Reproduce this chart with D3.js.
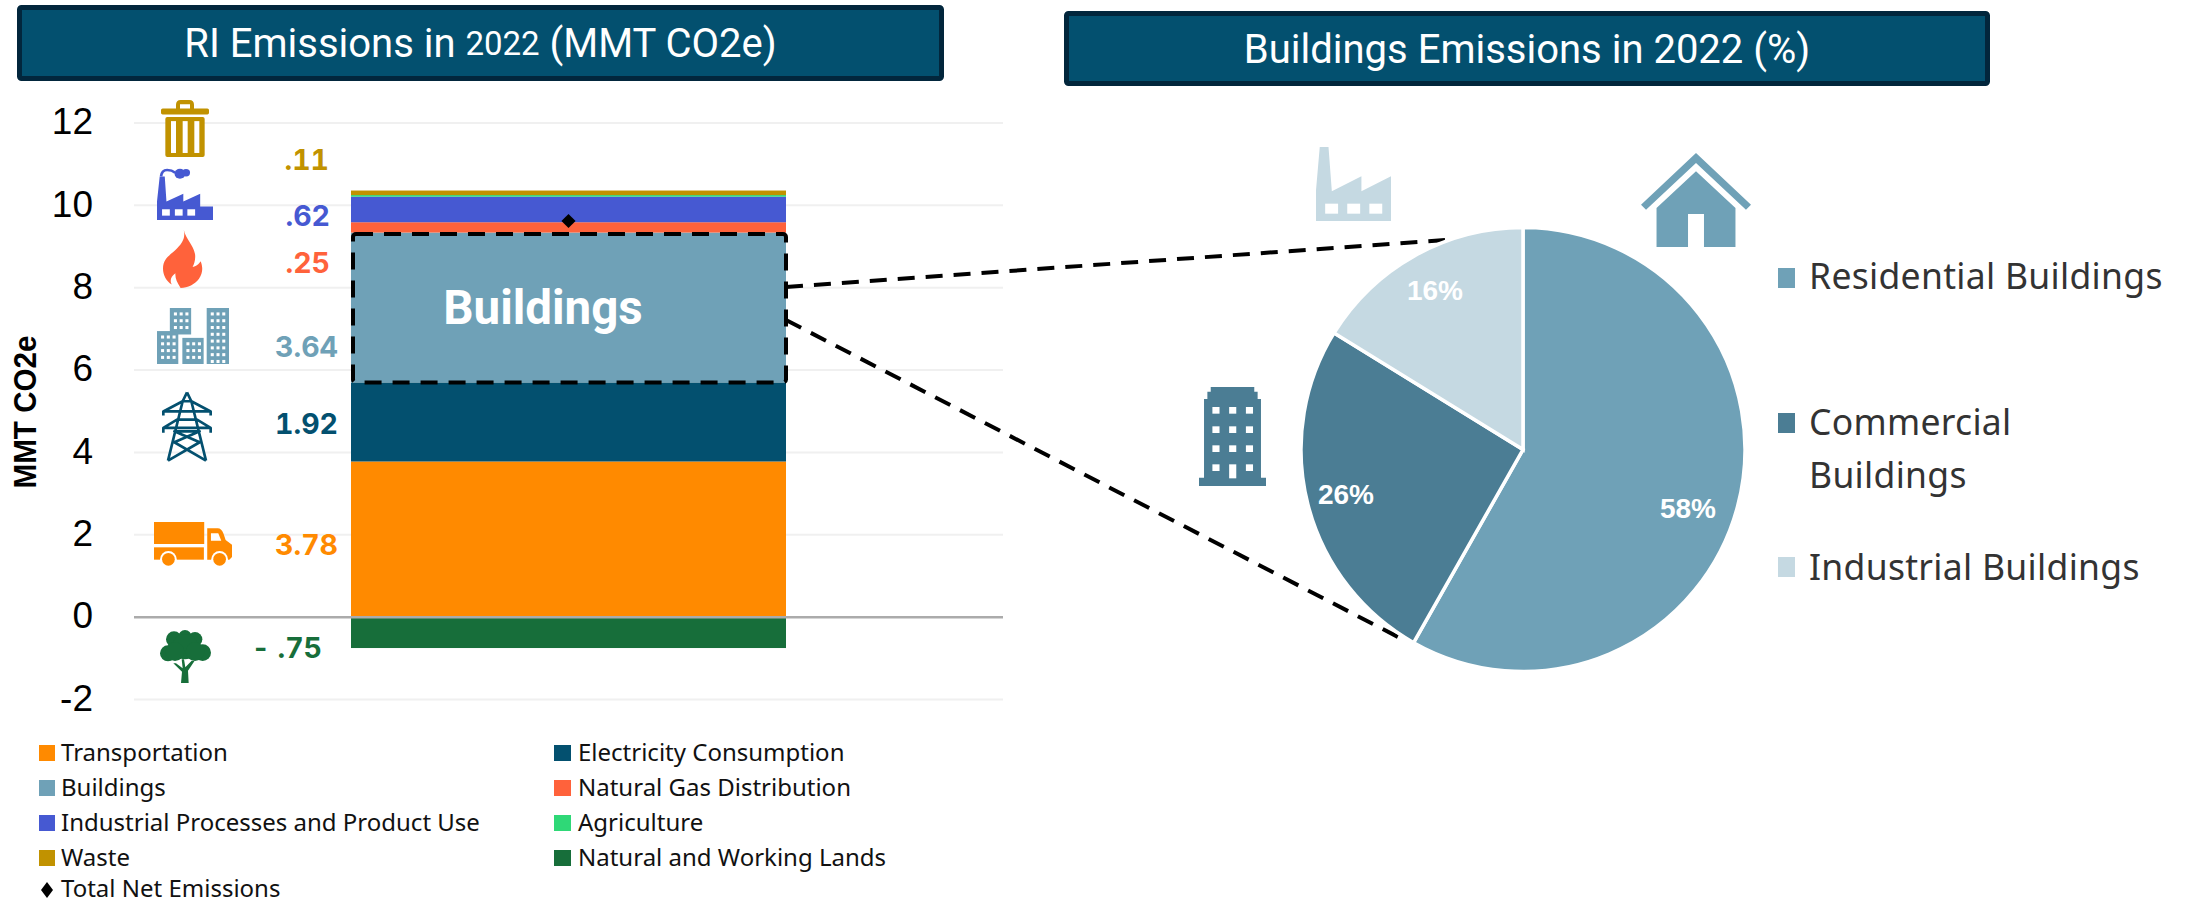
<!DOCTYPE html>
<html><head><meta charset="utf-8">
<script src="https://cdn.jsdelivr.net/npm/d3@7/dist/d3.min.js"></script>
<style>html,body{margin:0;padding:0;background:#fff;overflow:hidden}svg{display:block}</style>
</head><body><svg id="c" width="2189" height="903"></svg>
<script>
// ---- data ----
const categories=["Transportation","Electricity Consumption","Buildings","Natural Gas Distribution","Industrial Processes and Product Use","Agriculture","Waste","Natural and Working Lands"];
const values=[3.78,1.92,3.64,0.25,0.62,0.04,0.11,-0.75];
const colors=["#FF8A00","#03506F","#6FA1B7","#FF623B","#4659D2","#2FD877","#C19200","#176E3A"];
const totalNet=9.62;
const yTicks=[-2,0,2,4,6,8,10,12];
const legendOrder=[0,1,2,3,4,5,6,7];
const valueLabels=[".11",".62",".25","3.64","1.92","3.78","- .75"];
const valueLabelColors=["#C19200","#4659D2","#FF623B","#6FA1B7","#03506F","#FF8A00","#176E3A"];
const pieNames=["Residential Buildings","Commercial Buildings","Industrial Buildings"];
const pieValues=[58.2,25.6,16.2];
const pieColors=["#6FA1B7","#4B7D94","#C5D9E2"];

const svg=d3.select("#c");
const SANS="Roboto, 'Liberation Sans', sans-serif";
const LEG="'Noto Sans', sans-serif";
const ARIAL="'Liberation Sans', Arial, sans-serif";

// title boxes
function titleBox(x,y,w,h,parts){
  svg.append("rect").attr("x",x+2.5).attr("y",y+2.5).attr("width",w-5).attr("height",h-5).attr("rx",2)
    .attr("fill","#03506F").attr("stroke","#02263C").attr("stroke-width",5);
  const t=svg.append("text").attr("x",x+w/2).attr("y",y+h/2).attr("text-anchor","middle").attr("dominant-baseline","central")
    .attr("font-family",SANS).attr("font-size",40).attr("fill","#fff");
  parts.forEach(p=>t.append("tspan").attr("font-size",p[1]).text(p[0]));
}
titleBox(17,5,927,76,[["RI Emissions in ",40],["2022",33],[" (MMT CO2e)",40]]);
titleBox(1064,11,926,75,[["Buildings Emissions in 2022 (%)",40]]);

// scales
const y=d3.scaleLinear().domain([-2,12]).range([699.5,123]);
const barX=351,barW=435;

// grid
svg.append("g").selectAll("line").data(yTicks.filter(d=>d!==0)).join("line")
  .attr("x1",134).attr("x2",1003).attr("y1",d=>y(d)).attr("y2",d=>y(d))
  .attr("stroke","#F0F0F0").attr("stroke-width",2);

// axis
const ax=d3.axisLeft(y).tickValues(yTicks).tickSize(0).tickPadding(0).tickFormat(d=>String(d));
const axG=svg.append("g").attr("transform","translate(93,0)").call(ax);
axG.select(".domain").remove();
axG.selectAll("text").attr("font-family",ARIAL).attr("font-size",37).attr("fill","#000").attr("dy","0.29em");

svg.append("text").attr("transform","translate(25,412) rotate(-90)").attr("text-anchor","middle").attr("dominant-baseline","central")
  .attr("font-family",ARIAL).attr("font-weight","bold").attr("font-size",32).attr("textLength",153).attr("lengthAdjust","spacingAndGlyphs").attr("fill","#000").text("MMT CO2e");

// stacked bar
let pos=0,neg=0;
const stack=values.map((v,i)=>{
  if(v>=0){const o={y0:pos,y1:pos+v,c:colors[i]};pos+=v;return o;}
  const o={y0:neg,y1:neg+v,c:colors[i]};neg+=v;return o;
});
svg.append("g").selectAll("rect").data(stack).join("rect")
  .attr("x",barX).attr("width",barW)
  .attr("y",d=>y(Math.max(d.y0,d.y1))).attr("height",d=>Math.abs(y(d.y0)-y(d.y1)))
  .attr("fill",d=>d.c);

// zero line
svg.append("line").attr("x1",134).attr("x2",1003).attr("y1",y(0)).attr("y2",y(0)).attr("stroke","#ABABAB").attr("stroke-width",2.5);

// total diamond
svg.append("path").attr("d",d3.symbol(d3.symbolSquare,100)()).attr("transform",`translate(${barX+barW/2},${y(totalNet)}) rotate(45)`).attr("fill","#000");

// dashed box on Buildings
const by0=stack[2].y0,by1=stack[2].y1;
svg.append("rect").attr("x",barX+2).attr("width",barW-2).attr("y",y(by1)+1.5).attr("height",y(by0)-y(by1)-1.5).attr("rx",3)
  .attr("fill","none").attr("stroke","#000").attr("stroke-width",4).attr("stroke-dasharray","17 11");
svg.append("text").attr("x",543).attr("y",308).attr("text-anchor","middle").attr("dominant-baseline","central")
  .attr("font-family",SANS).attr("font-weight","bold").attr("font-size",47.5).attr("fill","#fff").text("Buildings");

// connectors
const cx=1523,cy=449.5,R=222;
const conn=[[786,287,1445,240],[786,320,1400,638]];
svg.append("g").selectAll("line").data(conn).join("line")
  .attr("x1",d=>d[0]).attr("y1",d=>d[1]).attr("x2",d=>d[2]).attr("y2",d=>d[3])
  .attr("stroke","#000").attr("stroke-width",4).attr("stroke-dasharray","17 11");

// value labels
const labelPos=[[329,159],[330,215],[330,262],[338,346],[338,423],[338,544],[322,647]];
svg.append("g").selectAll("text").data(valueLabels).join("text")
  .attr("x",(d,i)=>labelPos[i][0]).attr("y",(d,i)=>labelPos[i][1]).attr("text-anchor","end").attr("dominant-baseline","central")
  .attr("font-family","Inter, Roboto, sans-serif").attr("font-weight",700).attr("font-size",28.5)
  .style("font-variant-numeric","tabular-nums")
  .attr("fill",(d,i)=>valueLabelColors[i]).text(d=>d);

// bottom legend
const legY=[753,788,823,858];
legendOrder.forEach((k,i)=>{
  const col=i%2,row=Math.floor(i/2);
  const sx=col?554:39, tx=col?578:61;
  svg.append("rect").attr("x",sx).attr("y",legY[row]-8).attr("width",col?17:16).attr("height",16).attr("fill",colors[k]);
  svg.append("text").attr("x",tx).attr("y",legY[row]-2).attr("dominant-baseline","central")
    .attr("font-family",LEG).attr("font-size",24).attr("fill","#111").text(categories[k]);
});
svg.append("path").attr("d","M47 882 L53 890 L47 898 L41 890Z").attr("fill","#000");
svg.append("text").attr("x",61).attr("y",887).attr("dominant-baseline","central")
  .attr("font-family",LEG).attr("font-size",24).attr("fill","#111").text("Total Net Emissions");

// pie
const pie=d3.pie().sort(null).value(d=>d)(pieValues);
const arc=d3.arc().innerRadius(0).outerRadius(R);
const pg=svg.append("g").attr("transform",`translate(${cx},${cy})`);
pg.selectAll("path").data(pie).join("path").attr("d",arc).attr("fill",(d,i)=>pieColors[i]).attr("stroke","#fff").attr("stroke-width",3.5);
const pieLabelPos=[[1688,508],[1346,494],[1435,290]];
svg.append("g").selectAll("text").data(pieValues).join("text")
  .attr("x",(d,i)=>pieLabelPos[i][0]).attr("y",(d,i)=>pieLabelPos[i][1]).attr("text-anchor","middle").attr("dominant-baseline","central")
  .attr("font-family",ARIAL).attr("font-weight","bold").attr("font-size",28).attr("fill","#fff").text(d=>Math.round(d)+"%");

// right legend
const rl=[[278,[275]],[423,[421,474]],[567,[566]]];
const rlLines=[["Residential Buildings"],["Commercial","Buildings"],["Industrial Buildings"]];
rl.forEach((r,i)=>{
  svg.append("rect").attr("x",1778).attr("y",r[0]-10).attr("width",17).attr("height",20).attr("fill",pieColors[i]);
  rlLines[i].forEach((t,j)=>svg.append("text").attr("x",1809).attr("y",r[1][j]).attr("dominant-baseline","central")
    .attr("font-family",LEG).attr("font-size",35.5).attr("letter-spacing",0.3).attr("fill","#333").text(t));
});

// ---- icons (drawn in local units, placed into a box) ----
function box(x0,y0,w,h,lw,lh){return svg.append("g").attr("transform",`translate(${x0},${y0}) scale(${w/lw},${h/lh})`);}
// trash
{const g=box(161,100,48,57,144,170),c="#C19200";
 g.append("path").attr("fill",c).attr("d","M45 27V14Q45 0 59 0H85Q99 0 99 14V27H87V13H57V27Z");
 g.append("rect").attr("y",25).attr("width",144).attr("height",18).attr("rx",5).attr("fill",c);
 g.append("rect").attr("x",13).attr("y",51).attr("width",118).attr("height",119).attr("rx",6).attr("fill",c);
 [30,65,100].forEach(v=>g.append("rect").attr("x",v).attr("y",63).attr("width",15).attr("height",95).attr("fill","#fff"));}
// industrial factory (blue) with smoke
{const g=box(157,168,56,52,166,155),c="#4659D2";
 g.append("path").attr("fill",c).attr("d","M0 155V100L8 25H23L28 100L78 77V100L128 77V115H166V155Z");
 [15,53,90].forEach(v=>g.append("rect").attr("x",v).attr("y",123).attr("width",23).attr("height",19).attr("fill","#fff"));
 g.append("path").attr("fill","none").attr("stroke",c).attr("stroke-width",8).attr("d","M12 25Q14 6 30 6Q44 6 54 14");
 g.append("ellipse").attr("cx",68).attr("cy",17).attr("rx",16).attr("ry",15).attr("fill",c);
 g.append("ellipse").attr("cx",86).attr("cy",14).attr("rx",12).attr("ry",11).attr("fill",c);}
// flame
{const g=box(163,230,40,58,100,145);
 g.append("path").attr("fill","#FF623B").attr("d","M52 0C58 25 75 35 80 60C82 72 78 85 74 92C82 92 90 85 94 78C100 92 100 108 90 122C80 136 62 145 44 145C34 130 30 120 31 108C20 115 16 128 22 136C8 128 0 112 0 96C0 70 20 62 36 45C50 30 56 18 52 0Z");}
// city
{const g=box(157,308,72,56,213,165),c="#6FA1B7";
 const bs=[[38,0,63,78],[0,68,63,97],[75,88,63,77],[147,0,66,165]];
 bs.forEach(b=>g.append("rect").attr("x",b[0]).attr("y",b[1]).attr("width",b[2]).attr("height",b[3]).attr("fill",c));
 bs.forEach(b=>{for(let yy=b[1]+13;yy<b[1]+b[3]-8;yy+=20)for(let xx=b[0]+12;xx<b[0]+b[2]-10;xx+=17)
   g.append("rect").attr("x",xx).attr("y",yy).attr("width",9).attr("height",9).attr("fill","#fff");});}
// tower
{const g=box(162,391,50,70,150,205),c="#03506F";
 g.append("path").attr("fill","none").attr("stroke",c).attr("stroke-width",8).attr("stroke-linejoin","round")
 .attr("d","M75 4L62 30L18 204M75 4L88 30L132 204M4 72V60L62 30H88L146 60V72M4 60H146M4 122V108L45 84H105L146 108V122M4 108H146M52 84H98M18 204L113 150L37 118H113L37 150L132 204");}
// truck
{const g=box(154,522,78,44,233,132),c="#FF8A00";
 g.append("rect").attr("width",150).attr("height",66).attr("fill",c);
 g.append("rect").attr("y",76).attr("width",149).attr("height",37).attr("fill",c);
 g.append("path").attr("fill",c).attr("d","M159 19H190Q202 19 208 36L214 54L233 68V105L225 113H159Z");
 g.append("path").attr("fill","#fff").attr("d","M170 34H192L201 56H170Z");
 [43,196].forEach(v=>{g.append("circle").attr("cx",v).attr("cy",112).attr("r",25).attr("fill","#fff");
  g.append("circle").attr("cx",v).attr("cy",112).attr("r",19).attr("fill",c);});}
// tree
{const g=box(160,630,51,53,153,159),c="#176E3A";
 [[42,28,24],[75,20,20],[105,28,22],[24,70,24],[128,68,25],[75,50,38],[45,65,28],[105,65,28]].forEach(d=>
   g.append("circle").attr("cx",d[0]).attr("cy",d[1]).attr("r",d[2]).attr("fill",c));
 g.append("path").attr("fill",c).attr("d","M63 159L66 125L40 100H48L68 115L65 88H72L76 112L95 92H104L84 122L86 159Z");}
// pie factory, house, building
{const g=box(1316,147,75,74,180,222),c="#C5D9E2";
 g.append("path").attr("fill",c).attr("d","M0 222V130L9 0H30L38 133L109 88V133L180 88V222Z");
 [22,75,128].forEach(v=>g.append("rect").attr("x",v).attr("y",170).attr("width",31).attr("height",30).attr("fill","#fff"));}
{const g=box(1641,153,110,94,262,282),c="#6FA1B7";
 g.append("path").attr("fill",c).attr("d","M131 0L262 155L250 170L131 30L12 170L0 155Z");
 g.append("path").attr("fill",c).attr("d","M131 55L225 165V282H150V183H112V282H37V165Z");}
{const g=box(1199,387,67,99,160,297),c="#4B7D94";
 g.append("path").attr("fill",c).attr("d","M28 0H132V14H140V36H148V272H160V297H0V272H12V36H20V14H28Z");
 [30,70,110].forEach(xx=>[60,118,175,232].forEach(yy=>{
   if(xx===70&&yy===232) g.append("rect").attr("x",72).attr("y",232).attr("width",17).attr("height",42).attr("fill","#fff");
   else g.append("rect").attr("x",xx+2).attr("y",yy).attr("width",17).attr("height",20).attr("fill","#fff");}));}
</script></body></html>
